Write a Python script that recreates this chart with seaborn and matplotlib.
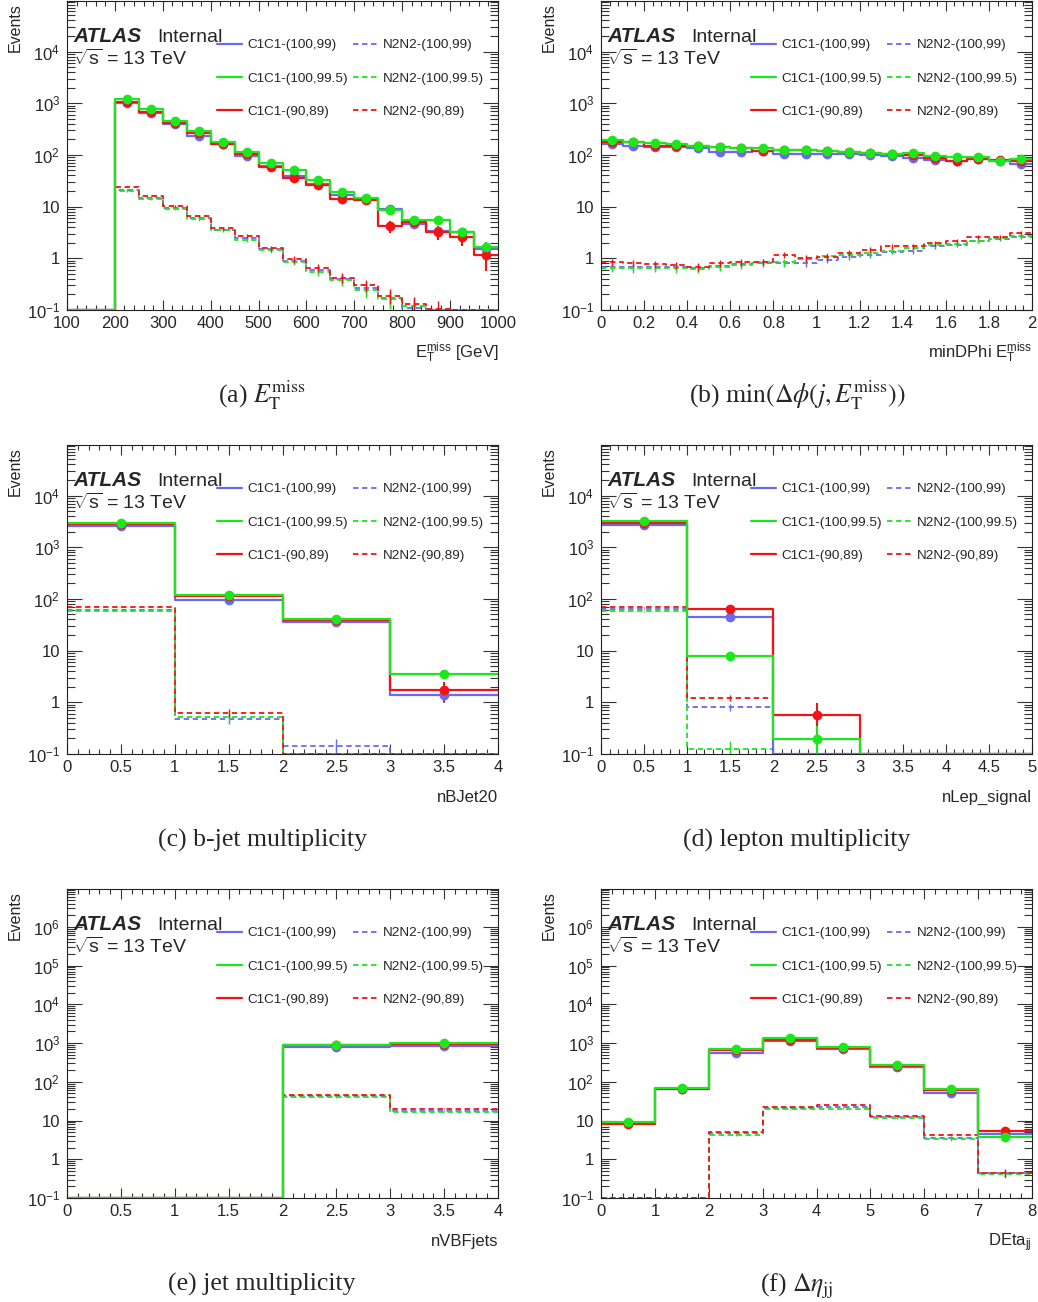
import numpy as np
import matplotlib
matplotlib.use("Agg")
import matplotlib.pyplot as plt
import seaborn as sns
from matplotlib.lines import Line2D
from matplotlib.ticker import LogLocator, MultipleLocator, FuncFormatter, NullFormatter

# samples: (100,99), (100,99.5), (90,89)
c1_labels = ["C1C1-(100,99)", "C1C1-(100,99.5)", "C1C1-(90,89)"]
n2_labels = ["N2N2-(100,99)", "N2N2-(100,99.5)", "N2N2-(90,89)"]
colors = ["#6a6af0", "#1ee61e", "#f21414"]
c1_weight = [0.12, 0.12, 0.28]   # MC event weights -> stat. error bars
n2_weight = 0.02

# (a) MET, 100-1000 GeV in 50 GeV bins
met_edges = np.linspace(100, 1000, 19)
met_C1_99 = [0, 0, 1000, 640, 400, 237, 160, 97, 60, 39, 27, 17, 14, 8.9, 4.6, 3.4, 3.2, 1.5]
met_C1_995 = [0, 0, 1195, 765, 462, 291, 176, 116, 69, 50, 33, 19, 14.5, 8.6, 5.4, 5.5, 3.2, 1.63]
met_C1_89 = [0, 0, 1050, 690, 420, 262, 163, 103, 59, 36, 26, 14, 13.5, 4.2, 5.0, 3.2, 2.6, 1.14]
met_N2_99 = [0, 0, 21, 15, 9.5, 6.0, 3.6, 2.5, 1.5, 0.9, 0.6, 0.4, 0.27, 0.17, 0.11, 0.09, 0.07, 0.05]
met_N2_995 = [0, 0, 20, 14, 9.0, 5.7, 3.5, 2.3, 1.45, 0.86, 0.55, 0.38, 0.24, 0.16, 0.12, 0.1, 0.08, 0.06]
met_N2_89 = [0, 0, 24.4, 16.3, 10.4, 6.6, 3.8, 2.7, 1.56, 0.96, 0.66, 0.42, 0.30, 0.19, 0.13, 0.105, 0.08, 0.06]

# (b) min dphi(j, MET), 0-2 in 0.1 bins
dphi_edges = np.linspace(0, 2, 21)
dphi_C1_99 = [163, 152, 145, 142, 135, 116, 112, 118, 106, 106, 104, 104, 100, 96, 89, 80, 78, 82, 76, 67]
dphi_C1_995 = [195, 181, 168, 161, 150, 142, 138, 137, 127, 125, 121, 116, 111, 103, 108, 97, 93, 93, 78, 85]
dphi_C1_89 = [181, 176, 152, 150, 150, 145, 135, 121, 125, 125, 120, 112, 108, 104, 100, 86, 78, 82, 80, 76]
dphi_N2_99 = [0.69, 0.69, 0.69, 0.68, 0.66, 0.71, 0.76, 0.82, 0.80, 0.80, 0.93, 1.08, 1.16, 1.35, 1.4, 1.73, 1.81, 2.2, 2.4, 2.6]
dphi_N2_995 = [0.66, 0.64, 0.66, 0.64, 0.62, 0.69, 0.74, 0.84, 0.84, 0.96, 1.11, 1.16, 1.25, 1.4, 1.56, 1.81, 1.9, 2.2, 2.5, 2.7]
dphi_N2_89 = [0.84, 0.80, 0.77, 0.74, 0.69, 0.80, 0.84, 0.86, 1.16, 1.0, 1.05, 1.29, 1.45, 1.73, 1.73, 1.95, 2.2, 2.55, 2.6, 3.1]

# (c) b-jet multiplicity
nb_edges = np.arange(0, 5)
nb_C1_99 = [2560, 95, 36, 1.39]
nb_C1_995 = [3000, 119, 41, 3.6]
nb_C1_89 = [2800, 114, 39, 1.73]
nb_N2_99 = [61, 0.47, 0.143, 0]
nb_N2_995 = [59, 0.51, 0, 0]
nb_N2_89 = [71, 0.63, 0, 0]

# (d) lepton multiplicity
nlep_edges = np.arange(0, 6)
nlep_C1_99 = [2680, 45.5, 0, 0, 0]
nlep_C1_995 = [3230, 7.9, 0.198, 0, 0]
nlep_C1_89 = [2960, 64, 0.57, 0, 0]
nlep_N2_99 = [63, 0.82, 0, 0, 0]
nlep_N2_995 = [58, 0.127, 0, 0, 0]
nlep_N2_89 = [69, 1.23, 0, 0, 0]

# (e) VBF jet multiplicity
nvbf_edges = np.arange(0, 5)
nvbf_C1_99 = [0, 0, 800, 860]
nvbf_C1_995 = [0, 0, 915, 1030]
nvbf_C1_89 = [0, 0, 880, 950]
nvbf_N2_99 = [0, 0, 42.5, 17.9]
nvbf_N2_995 = [0, 0, 39.5, 16.2]
nvbf_N2_89 = [0, 0, 46, 20]

# (f) delta eta jj
deta_edges = np.arange(0, 9)
deta_C1_99 = [8.5, 63.5, 569, 1160, 693, 239, 52, 4.5]
deta_C1_995 = [9.3, 70, 721, 1330, 797, 279, 65, 3.8]
deta_C1_89 = [8.3, 67, 653, 1230, 736, 258, 61, 5.3]
deta_N2_99 = [0, 0, 4.7, 21.5, 21.9, 12.3, 3.6, 0.44]
deta_N2_995 = [0, 0, 4.2, 19.8, 20.2, 11.6, 3.3, 0.42]
deta_N2_89 = [0, 0, 5.2, 22.7, 24.5, 13.3, 4.2, 0.45]

sns.set_style("ticks")
plt.rcParams["font.family"] = ["Liberation Sans", "DejaVu Sans"]
plt.rcParams["mathtext.fontset"] = "custom"
plt.rcParams["mathtext.rm"] = "Liberation Sans"
plt.rcParams["mathtext.it"] = "Liberation Sans:italic"
plt.rcParams["mathtext.bf"] = "Liberation Sans:bold"
plt.rcParams["mathtext.sf"] = "Liberation Sans"

W, H = 1038, 1302
fig = plt.figure(figsize=(W / 100, H / 100), dpi=100)


def px(x, y):
    return x / W, 1 - y / H


def yfmt(v, pos):
    e = int(round(np.log10(v)))
    if e == 0:
        return "1"
    if e == 1:
        return "10"
    return r"$10^{%d}$" % e


panels = [
    (67, 1, met_edges, [met_C1_99, met_C1_995, met_C1_89], [met_N2_99, met_N2_995, met_N2_89],
     r"$\mathrm{E}_{\mathrm{T}}^{\mathrm{miss}}$ [GeV]", 100, 20, 9.5e4,
     r"(a) $E_{\mathrm{T}}^{\mathrm{miss}}$"),
    (601, 1, dphi_edges, [dphi_C1_99, dphi_C1_995, dphi_C1_89], [dphi_N2_99, dphi_N2_995, dphi_N2_89],
     r"minDPhi $\mathrm{E}_{\mathrm{T}}^{\mathrm{miss}}$", 0.2, 0.04, 9.5e4,
     r"(b) $\min(\Delta\phi(j, E_{\mathrm{T}}^{\mathrm{miss}}))$"),
    (67, 445, nb_edges, [nb_C1_99, nb_C1_995, nb_C1_89], [nb_N2_99, nb_N2_995, nb_N2_89],
     "nBJet20", 0.5, 0.1, 9.5e4, "(c) b-jet multiplicity"),
    (601, 445, nlep_edges, [nlep_C1_99, nlep_C1_995, nlep_C1_89], [nlep_N2_99, nlep_N2_995, nlep_N2_89],
     "nLep_signal", 0.5, 0.1, 9.5e4, "(d) lepton multiplicity"),
    (67, 889, nvbf_edges, [nvbf_C1_99, nvbf_C1_995, nvbf_C1_89], [nvbf_N2_99, nvbf_N2_995, nvbf_N2_89],
     "nVBFjets", 0.5, 0.1, 9.5e6, "(e) jet multiplicity"),
    (601, 889, deta_edges, [deta_C1_99, deta_C1_995, deta_C1_89], [deta_N2_99, deta_N2_995, deta_N2_89],
     r"DEta$_{\mathrm{jj}}$", 1, 0.2, 9.5e6, r"(f) $\Delta\eta_{\mathrm{jj}}$"),
]

ymin = 0.1
aw, ah = 431, 309

for left, top, edges, c1_sets, n2_sets, xlabel, xmaj, xmin_, ymax, caption in panels:
    x0, y0 = px(left, top + ah)
    ax = fig.add_axes([x0, y0, aw / W, ah / H])
    edges = np.asarray(edges, dtype=float)
    centers = 0.5 * (edges[:-1] + edges[1:])
    bins = list(edges)

    # dashed N2N2 histograms
    for i in [0, 1, 2]:
        vals = np.asarray(n2_sets[i], dtype=float)
        sns.histplot(x=centers, weights=np.maximum(vals, ymin), bins=bins, element="step",
                     fill=False, color=colors[i], linewidth=1.3, linestyle=(0, (3, 2)), ax=ax)
        ok = vals > ymin
        err = np.sqrt(vals[ok] * n2_weight)
        ax.errorbar(centers[ok], vals[ok], yerr=[np.minimum(err, vals[ok] * 0.9), err],
                    fmt="none", ecolor=colors[i], elinewidth=1.0)

    # solid C1C1 histograms with markers
    for i in [0, 2, 1]:
        vals = np.asarray(c1_sets[i], dtype=float)
        sns.histplot(x=centers, weights=np.maximum(vals, ymin), bins=bins, element="step",
                     fill=False, color=colors[i], linewidth=1.6, ax=ax)
    for i in [0, 2, 1]:
        vals = np.asarray(c1_sets[i], dtype=float)
        ok = vals > ymin
        err = np.sqrt(vals[ok] * c1_weight[i])
        ax.errorbar(centers[ok], vals[ok], yerr=[np.minimum(err, vals[ok] * 0.9), err],
                    fmt="o", color=colors[i], ms=6, elinewidth=1.5, capsize=0)

    ax.set_yscale("log")
    ax.set_xlim(edges[0], edges[-1])
    ax.set_ylim(ymin, ymax)
    ax.set_xlabel("")
    ax.set_ylabel("")

    ax.yaxis.set_major_locator(LogLocator(base=10, numticks=20))
    ax.yaxis.set_minor_locator(LogLocator(base=10, subs=np.arange(2, 10), numticks=200))
    ax.yaxis.set_major_formatter(FuncFormatter(yfmt))
    ax.yaxis.set_minor_formatter(NullFormatter())
    ax.xaxis.set_major_locator(MultipleLocator(xmaj))
    ax.xaxis.set_minor_locator(MultipleLocator(xmin_))
    ax.xaxis.set_major_formatter(FuncFormatter(lambda v, p: "%g" % round(v, 6)))

    ax.tick_params(axis="both", which="both", direction="in", top=True, right=True,
                   labelsize=12, width=0.8, color="#333333")
    ax.tick_params(axis="y", which="major", length=11, pad=5)
    ax.tick_params(axis="y", which="minor", length=5.5)
    ax.tick_params(axis="x", which="major", length=7, pad=4)
    ax.tick_params(axis="x", which="minor", length=3.5)
    for s in ax.spines.values():
        s.set_linewidth(0.8)
        s.set_color("#222222")

    # legend, 2 columns
    handles = [Line2D([], [], color=c, lw=1.6) for c in colors] + \
              [Line2D([], [], color=c, lw=1.3, ls=(0, (3, 2))) for c in colors]
    ax.legend(handles, c1_labels + n2_labels, ncol=2, frameon=False, fontsize=9.7,
              loc="upper left", bbox_to_anchor=(150 / aw, 1 - 38 / ah),
              borderpad=0, borderaxespad=0, handlelength=1.85, handletextpad=0.37,
              columnspacing=0.37, labelspacing=1.55)

    # ATLAS label
    fig.text(*px(left + 6, top + 41), "ATLAS", fontsize=15, fontweight="bold",
             fontstyle="italic", va="baseline")
    fig.text(*px(left + 90, top + 41), "Internal", fontsize=14, va="baseline")
    fig.text(*px(left + 6, top + 64), r"$\sqrt{\mathrm{s}}$ = 13 TeV", fontsize=14, va="baseline")

    # axis titles
    fig.text(*px(left - 52, top + 2), "Events", fontsize=11.5, rotation=90,
             ha="center", va="top")
    fig.text(*px(left + aw, top + ah + 48), xlabel, fontsize=12, ha="right", va="baseline")

    # caption
    cx = 262 if left < 500 else 797
    fig.text(*px(cx, top + 402), caption, fontsize=18.5, ha="center", va="baseline",
             family=["Liberation Serif", "DejaVu Serif"], math_fontfamily="stix")

fig.savefig("out.png", dpi=100)
